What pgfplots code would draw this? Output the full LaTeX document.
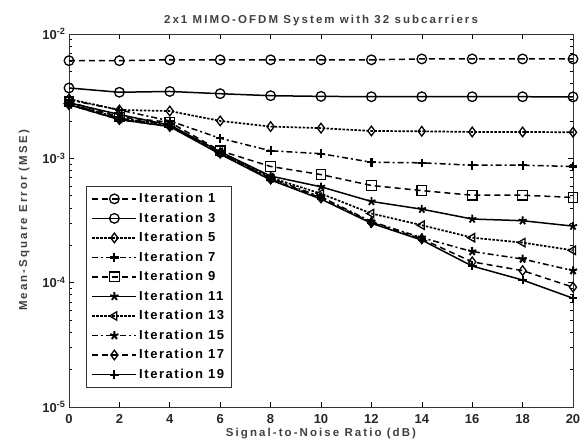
\documentclass[border=0pt]{standalone}
\usepackage{fontspec}
\setmainfont{Liberation Sans}
\usepackage{pgfplots}
\pgfplotsset{compat=1.18}
\usepackage{pgfplotstable}
\pgfplotstableread{
x   i1      i3      i5      i7      i9      i11     i13     i15     i17     i19
0   6.1e-3  3.68e-3 3.0e-3  2.95e-3 2.85e-3 2.8e-3  2.75e-3 2.75e-3 2.7e-3  2.7e-3
2   6.1e-3  3.40e-3 2.45e-3 2.45e-3 2.15e-3 2.25e-3 2.1e-3  2.1e-3  2.05e-3 2.05e-3
4   6.2e-3  3.45e-3 2.4e-3  2.0e-3  1.95e-3 1.85e-3 1.85e-3 1.85e-3 1.8e-3  1.8e-3
6   6.2e-3  3.31e-3 2.0e-3  1.45e-3 1.15e-3 1.13e-3 1.12e-3 1.1e-3  1.1e-3  1.08e-3
8   6.2e-3  3.19e-3 1.8e-3  1.15e-3 8.6e-4  7.2e-4  7.0e-4  6.9e-4  6.8e-4  6.7e-4
10  6.2e-3  3.15e-3 1.75e-3 1.09e-3 7.4e-4  5.9e-4  5.2e-4  4.9e-4  4.8e-4  4.7e-4
12  6.2e-3  3.13e-3 1.66e-3 9.3e-4  6.05e-4 4.5e-4  3.6e-4  3.1e-4  3.05e-4 3.0e-4
14  6.3e-3  3.13e-3 1.65e-3 9.2e-4  5.5e-4  3.9e-4  2.9e-4  2.3e-4  2.25e-4 2.2e-4
16  6.3e-3  3.13e-3 1.63e-3 8.8e-4  5.05e-4 3.25e-4 2.3e-4  1.78e-4 1.47e-4 1.36e-4
18  6.3e-3  3.13e-3 1.63e-3 8.8e-4  5.05e-4 3.15e-4 2.1e-4  1.55e-4 1.25e-4 1.05e-4
20  6.3e-3  3.12e-3 1.62e-3 8.6e-4  4.85e-4 2.85e-4 1.82e-4 1.25e-4 9.2e-5  7.5e-5
}\mse
\begin{document}
\begin{tikzpicture}[x=1pt,y=1pt]
\begin{semilogyaxis}[
  at={(0pt,0pt)}, anchor=south west,
  scale only axis, width=504pt, height=373pt,
  xmin=0, xmax=20, ymin=1e-5, ymax=1e-2,
  xtick={0,2,...,20}, xticklabels={0,2,4,6,8,10,12,14,16,18,20},
  ytick={1e-5,1e-4,1e-3,1e-2},
  yticklabels={10\textsuperscript{-5},10\textsuperscript{-4},10\textsuperscript{-3},10\textsuperscript{-2}},
  tick align=inside, major tick length=5pt, minor tick length=3pt,
  tick style={black, line width=0.6pt},
  axis line style={line width=0.8pt, black!80},
  ticklabel style={font=\fontsize{13}{15}\selectfont\bfseries, black!85},
  xticklabel style={yshift=-4pt},
  title={2x1 MIMO-OFDM System with 32 subcarriers},
  title style={font=\fontsize{11.5}{13}\selectfont\bfseries\addfontfeature{LetterSpace=18}, black!75, yshift=-1pt},
  xlabel={Signal-to-Noise Ratio (dB)},
  ylabel={Mean-Square Error (MSE)},
  label style={font=\fontsize{11.5}{13}\selectfont\bfseries\addfontfeature{LetterSpace=18}, black!75},
  xlabel style={yshift=2pt},
  ylabel style={yshift=6pt},
  legend style={at={(0.034,0.5925)}, anchor=north west, draw=black!80, line width=0.8pt,
    font=\fontsize{13}{15}\selectfont\bfseries\addfontfeature{LetterSpace=12}, row sep=4.6pt, inner xsep=5pt, inner ysep=5pt,
    legend cell align=left},
  legend image code/.code={\draw[mark repeat=2,mark phase=2] plot coordinates {(0pt,0pt)(22pt,0pt)(44pt,0pt)};},
  every axis plot/.append style={line width=1.5pt, black, mark size=4.8pt},
  om/.style={mark options={solid, fill=white, line width=1.3pt}},
  fm/.style={mark options={solid, line width=#1, mark size=4.3pt}},
  dotp/.style={dash pattern=on 2.5pt off 1.5pt, line width=1.7pt},
]
\addplot[dash pattern=on 6pt off 4pt, mark=o, om] table[y=i1]{\mse};
\addlegendentry{Iteration 1}
\addplot[solid, mark=o, om] table[y=i3]{\mse};
\addlegendentry{Iteration 3}
\addplot[dotp, mark=diamond, om] table[y=i5]{\mse};
\addlegendentry{Iteration 5}
\addplot[dash pattern=on 6pt off 3pt on 2pt off 3pt, mark=+, fm=2.2pt] table[y=i7]{\mse};
\addlegendentry{Iteration 7}
\addplot[dash pattern=on 6pt off 4pt, mark=square, om] table[y=i9]{\mse};
\addlegendentry{Iteration 9}
\addplot[solid, mark=star, fm=1.8pt] table[y=i11]{\mse};
\addlegendentry{Iteration 11}
\addplot[dotp, mark=triangle, mark options={solid, fill=white, line width=1.3pt, rotate=90}] table[y=i13]{\mse};
\addlegendentry{Iteration 13}
\addplot[dash pattern=on 6pt off 3pt on 2pt off 3pt, mark=star, fm=2pt] table[y=i15]{\mse};
\addlegendentry{Iteration 15}
\addplot[dash pattern=on 6pt off 4pt, mark=diamond, om] table[y=i17]{\mse};
\addlegendentry{Iteration 17}
\addplot[solid, mark=+, fm=2pt] table[y=i19]{\mse};
\addlegendentry{Iteration 19}
\end{semilogyaxis}
\pgfresetboundingbox
\path (-69pt,-34pt) rectangle (518pt,407pt);
\end{tikzpicture}
\end{document}
